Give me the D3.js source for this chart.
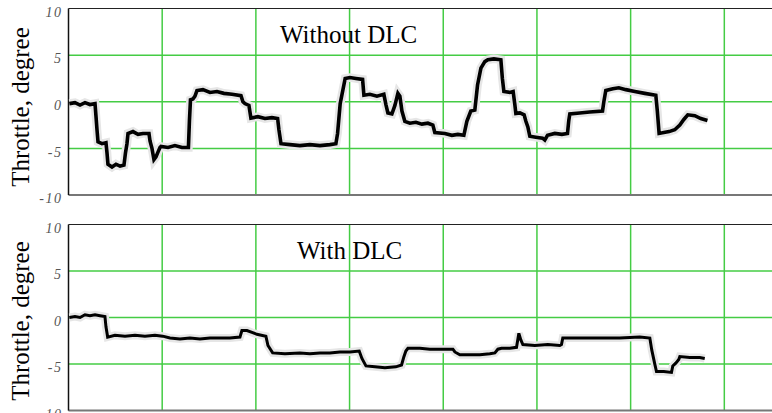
<!DOCTYPE html>
<html>
<head>
<meta charset="utf-8">
<script src="https://cdn.jsdelivr.net/npm/d3@7"></script>
<style>
  body { margin: 0; background: #fff; }
  svg { display: block; }
</style>
</head>
<body>
<div id="chart"></div>
<script>
// time axis (no labels in the original), grid every 100
const xGrid = [100, 200, 300, 400, 500, 600, 700, 800];
const yTicks = [-10, -5, 0, 5, 10];
const yTickLabels = ["-10", "-5", "0", "5", "10"];

// throttle without DLC: [t, degree]
const withoutT = [0.9, 6.9, 12.3, 17.6, 22.9, 28.3, 29.3, 30.4, 31.5, 35.7, 40.0, 41.1, 42.1, 46.4, 50.7, 55.0, 59.2,
  60.8, 62.4, 63.5, 68.8, 74.2, 79.5, 85.9, 87.0, 89.1, 91.2, 93.4, 95.5, 97.6, 98.7, 106.2, 113.6, 121.1, 128.0,
  129.1, 130.2, 132.8, 135.0, 137.1, 143.5, 151.0, 158.4, 165.9, 174.5, 184.1, 186.2, 188.3, 192.6, 194.7, 202.2,
  209.7, 217.1, 223.2, 224.6, 226.8, 236.4, 247.0, 257.7, 268.4, 279.0, 285.4, 287.2, 290.0, 295.3, 300.4, 306.8,
  313.9, 315.3, 321.7, 329.2, 336.6, 338.8, 340.9, 345.2, 348.4, 351.6, 353.7, 355.9, 359.0, 364.4, 370.8, 377.2,
  383.6, 388.9, 391.0, 401.7, 409.2, 415.6, 422.0, 425.2, 429.4, 433.7, 436.6, 440.2, 444.4, 447.6, 454.0, 461.5,
  463.1, 464.7, 471.1, 474.6, 476.4, 477.5, 481.8, 486.3, 488.2, 490.3, 492.4, 498.8, 506.0, 508.4, 511.3, 519.1,
  526.6, 532.6, 534.0, 535.1, 545.7, 556.4, 570.0, 571.4, 573.5, 581.0, 587.4, 594.9, 604.5, 615.1, 626.9, 628.5,
  630.4, 635.4, 641.1, 647.1, 652.5, 656.8, 661.0, 668.5, 674.9, 682.0];
const withoutV = [-0.2, -0.1, -0.35, -0.1, -0.3, -0.2, -1.5, -3.0, -4.3, -4.5, -4.4, -5.5, -6.7, -7.0, -6.7, -6.9, -6.8,
  -5.5, -4.5, -3.4, -3.2, -3.5, -3.4, -3.4, -4.2, -5.0, -6.2, -5.9, -5.4, -4.9, -4.8, -4.9, -4.7, -4.9, -4.9,
  -2.0, 0.2, 0.3, 0.6, 1.2, 1.3, 1.0, 1.1, 0.9, 0.8, 0.65, 0.0, -0.2, -0.4, -1.75, -1.6,
  -1.8, -1.7, -1.8, -3.0, -4.5, -4.6, -4.7, -4.6, -4.7, -4.6, -4.5, -3.4, -0.2, 2.5, 2.6, 2.5,
  2.4, 0.7, 0.8, 0.6, 0.8, -0.3, -1.2, -1.3, -0.4, 0.9, 0.6, -1.0, -2.1, -2.3, -2.2, -2.4,
  -2.3, -2.5, -3.3, -3.4, -3.6, -3.5, -3.6, -2.1, -1.0, -0.9, 1.8, 3.6, 4.3, 4.5, 4.6, 4.5,
  2.5, 1.1, 1.0, 1.1, -0.3, -1.25, -1.2, -1.4, -2.1, -2.7, -3.7, -3.8, -3.9, -4.1, -3.6, -3.4,
  -3.5, -3.4, -2.0, -1.3, -1.2, -1.1, -1.0, 0.0, 1.2, 1.4, 1.5, 1.3, 1.1, 0.9, 0.7, -1.0,
  -3.4, -3.3, -3.2, -3.0, -2.5, -1.9, -1.4, -1.5, -1.8, -2.0];

// throttle with DLC: [t, degree]
const withT = [0.9, 6.9, 12.3, 17.6, 22.9, 28.3, 33.6, 38.9, 40.0, 41.8, 49.6, 60.3, 71.0, 81.6, 92.3, 100.5, 108.3,
  119.0, 129.6, 140.3, 151.0, 161.7, 172.3, 183.0, 185.1, 190.5, 195.8, 201.1, 210.7, 212.9, 217.9, 231.0, 247.0,
  257.7, 268.4, 279.0, 289.7, 300.4, 310.3, 313.2, 317.5, 327.1, 337.7, 349.4, 355.5, 358.0, 360.1, 362.3, 375.1,
  385.7, 396.4, 410.3, 412.4, 417.7, 428.4, 439.1, 449.7, 455.1, 458.3, 462.2, 471.1, 478.2, 480.7, 482.8, 485.0,
  497.8, 511.6, 524.4, 526.2, 527.6, 545.7, 567.1, 588.4, 609.8, 620.5, 622.6, 625.8, 627.6, 635.4, 643.6, 645.0,
  648.2, 651.4, 652.5, 663.2, 673.8, 679.1];
const withV = [0.0, 0.1, 0.0, 0.3, 0.2, 0.3, 0.2, 0.1, -1.0, -2.1, -1.9, -2.0, -1.9, -2.0, -1.9, -2.0, -2.2,
  -2.3, -2.2, -2.3, -2.2, -2.2, -2.2, -2.1, -1.4, -1.4, -1.6, -1.8, -2.0, -3.0, -3.8, -3.9, -3.8,
  -3.9, -3.8, -3.8, -3.7, -3.7, -3.6, -4.4, -5.2, -5.3, -5.4, -5.3, -5.1, -4.2, -3.6, -3.3, -3.3,
  -3.4, -3.4, -3.4, -3.7, -4.0, -4.0, -4.0, -3.9, -3.8, -3.4, -3.3, -3.3, -3.2, -1.7, -2.4, -2.9,
  -3.0, -2.9, -3.0, -2.9, -2.2, -2.2, -2.2, -2.2, -2.1, -2.2, -3.5, -5.0, -5.8, -5.8, -5.9, -5.2,
  -4.9, -4.5, -4.2, -4.3, -4.3, -4.4];

const width = 772, height = 413;
const gridColor = "#44cc44";
const lineColor = "#000000";

const svg = d3.select("#chart").append("svg")
  .attr("width", width)
  .attr("height", height);

svg.append("rect").attr("width", width).attr("height", height).attr("fill", "#fff");

const x = d3.scaleLinear().domain([0, 800]).range([68.5, 818]);

const panels = [
  { top: 8.5, bottom: 195, title: "Without DLC", tx: 280, ty: 43, t: withoutT, v: withoutV, ylabY: 107, sw: 3.6 },
  { top: 224.5, bottom: 410.6, title: "With DLC", tx: 297, ty: 259, t: withT, v: withV, ylabY: 321, sw: 3 }
];

panels.forEach((p, i) => {
  const y = d3.scaleLinear().domain([-10, 10]).range([p.bottom, p.top]);
  const g = svg.append("g");

  g.append("clipPath").attr("id", "clip" + i)
    .append("rect")
    .attr("x", x(0)).attr("y", p.top)
    .attr("width", x(800) - x(0)).attr("height", p.bottom - p.top);

  // grille verte
  g.selectAll(".hgrid").data([-5, 0, 5]).join("line")
    .attr("x1", x(0)).attr("x2", x(800))
    .attr("y1", d => y(d)).attr("y2", d => y(d))
    .attr("stroke", gridColor).attr("stroke-width", 1.5);
  g.selectAll(".vgrid").data(xGrid).join("line")
    .attr("x1", d => x(d)).attr("x2", d => x(d))
    .attr("y1", p.top).attr("y2", p.bottom)
    .attr("stroke", gridColor).attr("stroke-width", 1.5);

  // cadre
  g.append("line").attr("x1", x(0)).attr("x2", x(800)).attr("y1", p.top).attr("y2", p.top)
    .attr("stroke", "#222").attr("stroke-width", 1.2);
  g.append("line").attr("x1", x(0)).attr("x2", x(800)).attr("y1", p.bottom).attr("y2", p.bottom)
    .attr("stroke", "#777").attr("stroke-width", 2);
  g.append("line").attr("x1", x(0)).attr("x2", x(0)).attr("y1", p.top).attr("y2", p.bottom)
    .attr("stroke", "#111").attr("stroke-width", 1.5);

  // tick labels
  const axis = d3.axisLeft(y).tickValues(yTicks).tickSize(0).tickPadding(6)
    .tickFormat((d, k) => yTickLabels[k]);
  const ag = g.append("g").attr("transform", `translate(${x(0)},0)`).call(axis);
  ag.select(".domain").remove();
  ag.selectAll("text")
    .attr("dy", "0.55em")
    .style("font-family", "'Liberation Serif', 'Times New Roman', serif")
    .style("font-style", "italic")
    .style("font-size", "14px")
    .style("letter-spacing", "1.5px")
    .attr("fill", "#555");

  // trace (halo gris léger puis trait noir)
  const pts = p.t.map((t, k) => [t, p.v[k]]);
  const line = d3.line().x(d => x(d[0])).y(d => y(d[1]));
  g.append("path")
    .datum(pts)
    .attr("clip-path", `url(#clip${i})`)
    .attr("fill", "none")
    .attr("stroke", "#e6e6e6")
    .attr("stroke-width", p.sw + 5)
    .attr("d", line);
  g.append("path")
    .datum(pts)
    .attr("clip-path", `url(#clip${i})`)
    .attr("fill", "none")
    .attr("stroke", lineColor)
    .attr("stroke-width", p.sw)
    .attr("stroke-linejoin", "miter")
    .attr("d", line);

  // titre du panneau
  g.append("text")
    .attr("x", p.tx).attr("y", p.ty)
    .style("font-family", "'Liberation Serif', 'Times New Roman', serif")
    .style("font-size", "25px")
    .attr("fill", "#000")
    .text(p.title);

  // titre axe y
  g.append("text")
    .attr("transform", `translate(29,${p.ylabY}) rotate(-90)`)
    .attr("text-anchor", "middle")
    .style("font-family", "'Liberation Serif', 'Times New Roman', serif")
    .style("font-size", "25px")
    .attr("fill", "#000")
    .text("Throttle, degree");
});
</script>
</body>
</html>
